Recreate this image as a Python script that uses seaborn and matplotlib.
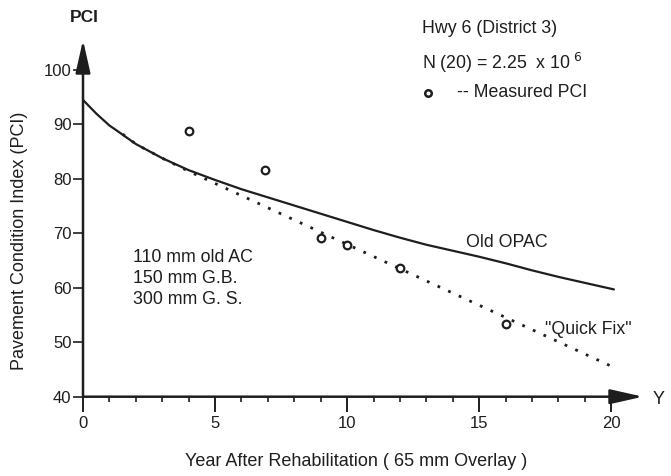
import pandas as pd
import seaborn as sns
import matplotlib
matplotlib.use("Agg")
from matplotlib import pyplot as plt

# values
opac_year = [0, 0.5, 1, 1.3, 2, 3, 4, 5, 6, 7, 8, 9, 10, 11, 12, 13, 14, 15, 16, 17, 18, 19, 20.1]
opac_pci = [94.5, 92.0, 89.8, 88.8, 86.4, 83.8, 81.6, 79.8, 78.1, 76.6, 75.1, 73.6, 72.1, 70.6, 69.2, 67.9, 66.8, 65.7, 64.5, 63.2, 62.0, 60.9, 59.7]

fix_year = [1.5, 2, 3, 4, 20]
fix_pci = [88.2, 86.4, 83.8, 81.4, 45.6]

meas_year = [4.0, 6.9, 9.0, 10.0, 12.0, 16.0]
meas_pci = [88.7, 81.6, 69.2, 67.9, 63.7, 53.3]

layers = ["110 mm old AC", "150 mm G.B.", "300 mm G. S."]
xticks = [0, 5, 10, 15, 20]
yticks = [40, 50, 60, 70, 80, 90, 100]

sns.set_style("white")
plt.rcParams['font.family'] = ['Liberation Sans', 'DejaVu Sans']
ink = "#1e1e1e"
fs = 12.8

fig = plt.figure(figsize=(6.71, 4.76), dpi=100)
ax = fig.add_axes([83/671, 79.3/476, 560/671, 356.7/476])

opac = pd.DataFrame({'year': opac_year, 'pci': opac_pci})
fix = pd.DataFrame({'year': fix_year, 'pci': fix_pci})
meas = pd.DataFrame({'year': meas_year, 'pci': meas_pci})

sns.lineplot(x='year', y='pci', data=opac, ax=ax, color=ink, lw=1.6, sort=False)
sns.lineplot(x='year', y='pci', data=fix, ax=ax, color=ink, lw=2.0, sort=False,
             linestyle=(0, (1, 3.2)))
sns.scatterplot(x='year', y='pci', data=meas, ax=ax, s=30, facecolor='white',
                edgecolor=ink, linewidth=1.6, zorder=5)

ax.set_xlim(0, 21.2)
ax.set_ylim(40, 105.5)
for s in ax.spines.values():
    s.set_visible(False)

# axes drawn as arrows
arrow = dict(arrowstyle='-|>,head_length=2.0,head_width=0.45', lw=1.8, color=ink,
             shrinkA=0, shrinkB=0, mutation_scale=10)
ax.annotate("", xy=(21.2, 40), xytext=(0, 40), arrowprops=arrow, annotation_clip=False)
ax.annotate("", xy=(0, 105.5), xytext=(0, 40), arrowprops=arrow, annotation_clip=False)

ax.set_xticks(xticks)
ax.set_xticks(range(0, 21), minor=True)
ax.set_yticks(yticks)
ax.tick_params(axis='x', which='major', direction='out', length=10.5, width=1.4,
               color=ink, labelsize=12, pad=3.5, bottom=True)
ax.tick_params(axis='x', which='minor', direction='out', length=3.5, width=1.2,
               color=ink, bottom=True)
ax.tick_params(axis='y', which='major', direction='out', length=7, width=1.2,
               color=ink, labelsize=12, pad=1.2, left=True)
for lab in ax.get_xticklabels() + ax.get_yticklabels():
    lab.set_color(ink)

ax.set_xlabel("")
ax.set_ylabel("")
fig.text(356/671, 1 - 462/476, "Year After Rehabilitation ( 65 mm Overlay )",
         ha='center', va='center', fontsize=13, color=ink)
fig.text(20/671, 1 - 241/476, "Pavement Condition Index (PCI)", rotation=90,
         ha='center', va='center', fontsize=13, color=ink)
fig.text(84/671, 1 - 18/476, "PCI", ha='center', va='center', fontsize=12.5,
         fontweight='bold', color=ink)
fig.text(659/671, 1 - 399.5/476, "Y", ha='center', va='center', fontsize=13, color=ink)

ax.text(12.84, 107.7, "Hwy 6 (District 3)", ha='left', va='center', fontsize=fs, color=ink)
ax.text(12.84, 101.3, "N (20) = 2.25  x 10$^{\\ 6}$", ha='left', va='center',
        fontsize=fs, color=ink)
ax.scatter([13.05], [95.8], s=22, facecolor='white', edgecolor=ink, linewidth=1.8,
           clip_on=False)
ax.text(14.17, 95.8, "-- Measured PCI", ha='left', va='center', fontsize=fs, color=ink)

for i, t in enumerate(layers):
    ax.text(1.9, 65.6 - i * 3.9, t, ha='left', va='center', fontsize=fs, color=ink)
ax.text(14.5, 68.4, "Old OPAC", ha='left', va='center', fontsize=fs, color=ink)
ax.text(17.5, 52.4, "\"Quick Fix\"", ha='left', va='center', fontsize=fs, color=ink)

fig.savefig("out.png", dpi=100)
